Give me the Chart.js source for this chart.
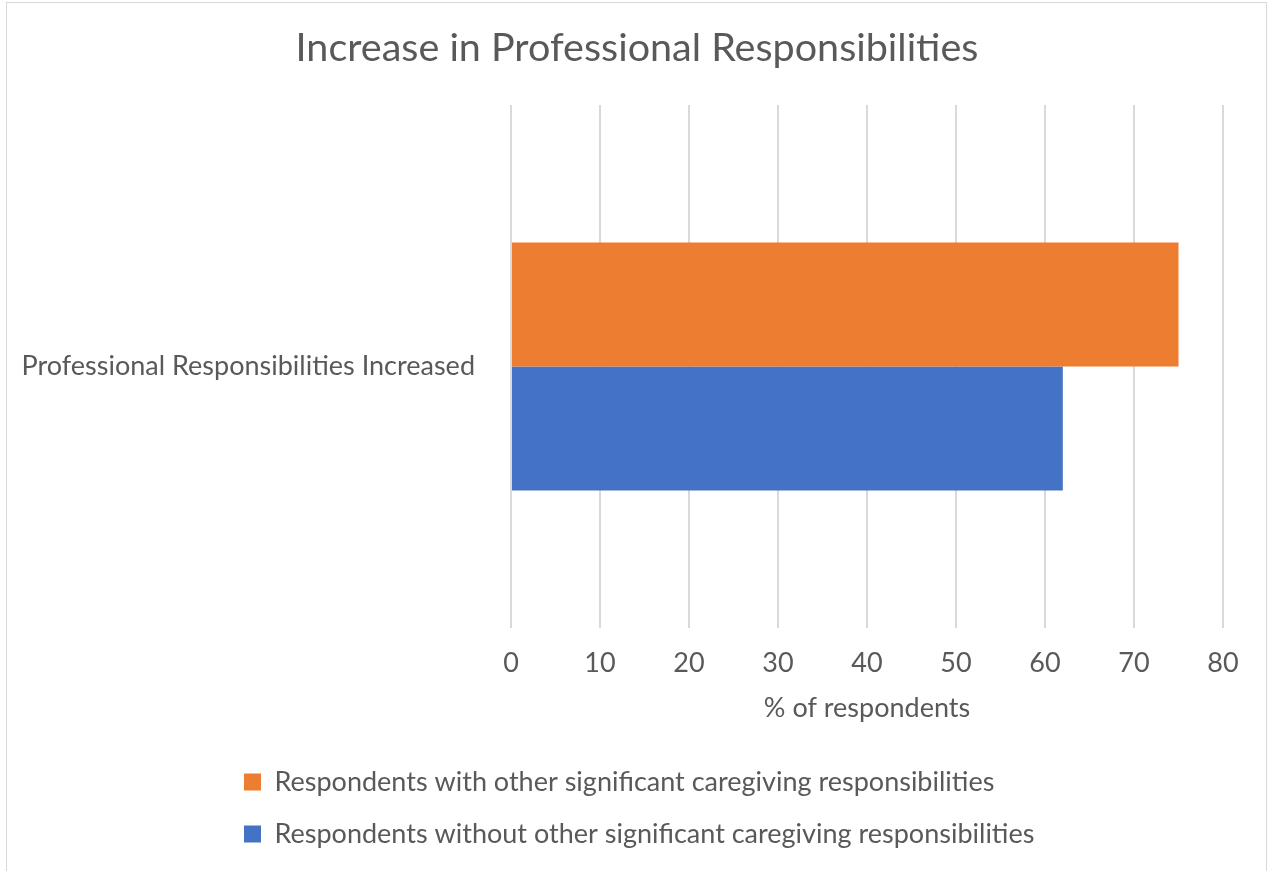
<!DOCTYPE html>
<html>
<head>
<meta charset="utf-8">
<script src="https://cdn.jsdelivr.net/npm/chart.js@4"></script>
<style>
  html, body { margin: 0; padding: 0; background: #fff; overflow: hidden; }
  #frame { position: absolute; left: 6px; top: 2px; width: 1259px; height: 900px; border: 1px solid #d9d9d9; }
  #wrap { position: absolute; left: 0; top: 0; width: 1268px; height: 871px; }
</style>
</head>
<body>
<div id="frame"></div>
<div id="wrap"><canvas id="grafico"></canvas></div>
<script>
const categorias = ['Professional Responsibilities Increased'];
const comCuidados = [75];
const semCuidados = [62];
const ticksX = [0, 10, 20, 30, 40, 50, 60, 70, 80];

const FONTE = "Lato, 'Open Sans', sans-serif";
const CINZA = '#595959';
Chart.defaults.font.family = FONTE;
Chart.defaults.color = CINZA;

// legenda alinhada à esquerda e título centrado na moldura toda, como no Excel
const ajusteLayout = {
    id: 'ajusteLayout',
    afterLayout(chart) {
        if (chart.legend) chart.legend.left = 219;
        if (chart.titleBlock) {
            chart.titleBlock.left = 0;
            chart.titleBlock.right = 1274;
        }
    }
};

const ctx = document.getElementById('grafico').getContext('2d');
const grafico = new Chart(ctx, {
    type: 'bar',
    data: {
        labels: categorias,
        datasets: [{
            label: 'Respondents with other significant caregiving responsibilities',
            data: comCuidados,
            backgroundColor: '#ED7D31'
        }, {
            label: 'Respondents without other significant caregiving responsibilities',
            data: semCuidados,
            backgroundColor: '#4472C4'
        }]
    },
    plugins: [ajusteLayout],
    options: {
        indexAxis: 'y',
        responsive: true,
        maintainAspectRatio: false,
        animation: false,
        categoryPercentage: 0.474,
        barPercentage: 1.0,
        layout: { padding: { left: 0, right: 45, top: 0, bottom: 13.5 } },
        plugins: {
            title: {
                display: true,
                text: 'Increase in Professional Responsibilities',
                font: { size: 39.5, weight: 'normal' },
                color: CINZA,
                padding: { top: 24.3, bottom: 33.3 }
            },
            legend: {
                position: 'bottom',
                align: 'start',
                labels: {
                    boxWidth: 17,
                    boxHeight: 17,
                    padding: 25,
                    font: { size: 27 },
                    color: CINZA
                }
            },
            tooltip: { enabled: false }
        },
        scales: {
            x: {
                min: 0,
                max: 80,
                afterBuildTicks: (scale) => { scale.ticks = ticksX.map(v => ({ value: v })); },
                afterFit: (scale) => { scale.height = 115.5; },
                ticks: { font: { size: 27 }, padding: 19, color: CINZA },
                grid: { color: '#d9d9d9', lineWidth: 2, drawTicks: false },
                border: { display: false },
                title: {
                    display: true,
                    text: '% of respondents',
                    font: { size: 27 },
                    color: CINZA,
                    padding: { top: 4, bottom: 19.3 }
                }
            },
            y: {
                afterFit: (scale) => { scale.width = 511; },
                ticks: { font: { size: 27 }, padding: 28, color: CINZA },
                grid: { display: false },
                border: { display: false }
            }
        }
    }
});
</script>
</body>
</html>
